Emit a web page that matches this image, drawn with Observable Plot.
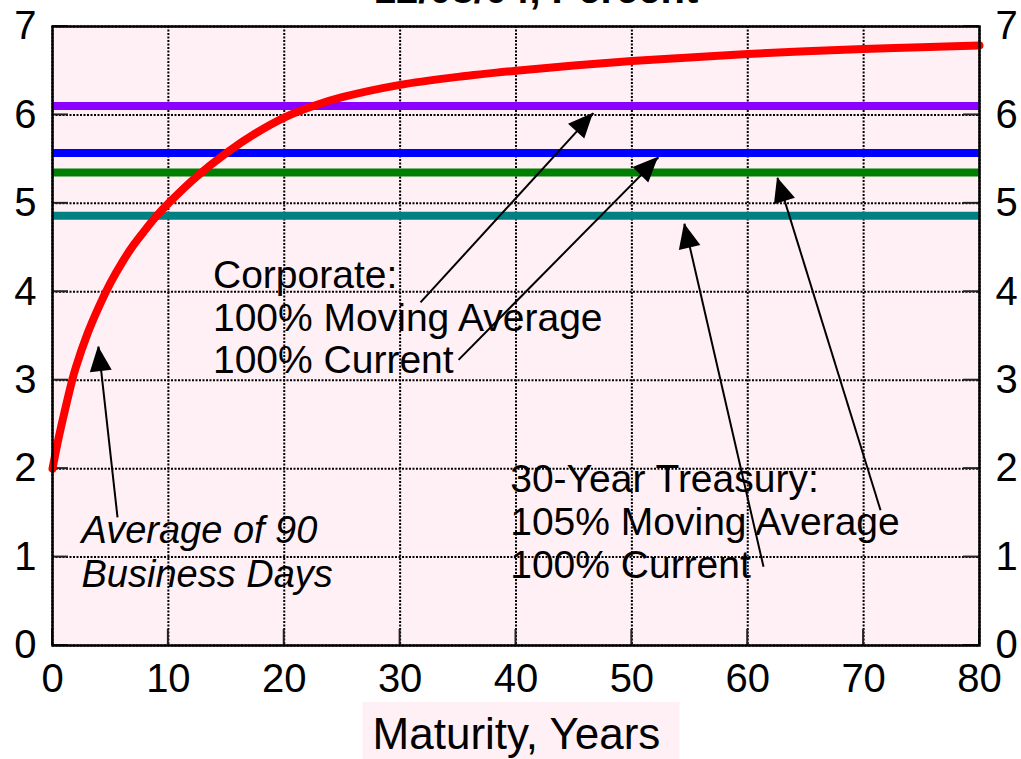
<!DOCTYPE html>
<html>
<head>
<meta charset="utf-8">
<script src="https://cdn.jsdelivr.net/npm/d3@7"></script>
<script src="https://cdn.jsdelivr.net/npm/@observablehq/plot@0.6"></script>
<style>
  html, body { margin: 0; padding: 0; background: #ffffff; }
  #chart { width: 1021px; height: 759px; overflow: hidden; }
</style>
</head>
<body>
<div id="chart"></div>
<script>
// ---- data ----
const titleText = "12/08/04, Percent";
const xLabel = "Maturity, Years";
const xTicks = [0, 10, 20, 30, 40, 50, 60, 70, 80];
const yTicks = [0, 1, 2, 3, 4, 5, 6, 7];

// Average of 90 business days curve
const maturity = [0, 0.5, 1, 1.7, 2, 3, 4, 5, 6, 7, 8, 9, 10, 12.5, 15, 17.5, 20, 22.5, 25, 30, 35, 40, 45, 50, 55, 60, 65, 70, 75, 80];
const avgRate  = [2.0, 2.33, 2.62, 3.0, 3.14, 3.52, 3.83, 4.1, 4.33, 4.53, 4.7, 4.86, 5.0, 5.31, 5.57, 5.79, 5.97, 6.1, 6.2, 6.34, 6.43, 6.5, 6.56, 6.61, 6.65, 6.69, 6.72, 6.745, 6.765, 6.785];

// Flat discount rates
const levelNames  = ["Corporate 100% Moving Average", "Corporate 100% Current", "30-Year Treasury 105% Moving Average", "30-Year Treasury 100% Current"];
const levelValues = [6.10, 5.57, 5.35, 4.86];
const levelColors = ["#8c00ff", "#0000ff", "#008000", "#008080"];

// Annotations (data coordinates)
const noteText = ["Corporate:\n100% Moving Average\n100% Current", "30-Year Treasury:\n105% Moving Average\n100% Current"];
const noteX = [13.85, 39.5];
const noteY = [3.076, 0.76];
const avgNoteText = ["Average of 90\nBusiness Days"];
const avgNoteX = [2.5];
const avgNoteY = [0.66];

// Arrows: from (x1,y1) to tip (x2,y2)
const arrowX1 = [5.61, 31.76, 35.04, 71.46, 61.36];
const arrowY1 = [1.45, 3.88, 3.23, 1.53, 0.89];
const arrowX2 = [3.97, 46.69, 52.30, 62.57, 54.54];
const arrowY2 = [3.38, 6.02, 5.52, 5.29, 4.77];

// ---- derived tables ----
const curve = maturity.map((m, i) => ({m, r: avgRate[i]}));
const levels = levelValues.map((v, i) => ({name: levelNames[i], v, c: levelColors[i]}));
const arrows = arrowX1.map((x1, i) => ({x1, y1: arrowY1[i], x2: arrowX2[i], y2: arrowY2[i]}));

const FONT = "'Liberation Sans', Arial, Helvetica, sans-serif";
const PINK = "#fff0f6";

function overlay(index, scales, values, dimensions) {
  const {x, y} = scales;
  const {width, height, marginLeft, marginRight, marginBottom} = dimensions;
  const g = d3.create("svg:g");
  const x0 = marginLeft, x1 = width - marginRight, yb = height - marginBottom;
  const T = 16;
  for (const t of yTicks) {
    const yy = y(t);
    g.append("line").attr("x1", x0).attr("x2", x0 + T).attr("y1", yy).attr("y2", yy)
      .attr("stroke", "#222").attr("stroke-width", 2);
    g.append("line").attr("x1", x1 - T).attr("x2", x1).attr("y1", yy).attr("y2", yy)
      .attr("stroke", "#222").attr("stroke-width", 2);
  }
  for (const t of xTicks) {
    const xx = x(t);
    g.append("line").attr("x1", xx).attr("x2", xx).attr("y1", yb - T).attr("y2", yb)
      .attr("stroke", "#222").attr("stroke-width", 2);
  }
  return g.node();
}

function arrowHeads(index, scales) {
  const {x, y} = scales;
  const g = d3.create("svg:g");
  for (const a of arrows) {
    const sx = x(a.x1), sy = y(a.y1), tx = x(a.x2), ty = y(a.y2);
    const ang = Math.atan2(ty - sy, tx - sx);
    const L = 25, W = 11;
    const bx = tx - L * Math.cos(ang), by = ty - L * Math.sin(ang);
    const px = -Math.sin(ang) * W, py = Math.cos(ang) * W;
    g.append("path")
      .attr("d", `M${tx},${ty}L${bx + px},${by + py}L${bx - px},${by - py}Z`)
      .attr("fill", "black");
  }
  return g.node();
}

function xLabelBox(index, scales, values, dimensions) {
  const {width, height, marginLeft, marginRight} = dimensions;
  const cx = (marginLeft + width - marginRight) / 2;
  const g = d3.create("svg:g");
  g.append("rect").attr("x", cx - 153).attr("y", height - 57).attr("width", 317).attr("height", 57)
    .attr("fill", PINK);
  g.append("text").attr("x", cx + 1).attr("y", height - 10).attr("text-anchor", "middle")
    .attr("font-size", 44).attr("fill", "black").attr("font-family", FONT).text(xLabel);
  return g.node();
}

const chart = Plot.plot({
  width: 1021,
  height: 759,
  marginLeft: 52,
  marginRight: 42,
  marginTop: 26,
  marginBottom: 114,
  style: {fontFamily: FONT, background: "white", color: "black"},
  x: {domain: [0, 80]},
  y: {domain: [0, 7]},
  color: {type: "identity"},
  marks: [
    Plot.frame({fill: PINK, stroke: null}),
    Plot.gridX(xTicks, {stroke: "black", strokeOpacity: 1, strokeWidth: 2, strokeDasharray: "2,1.5"}),
    Plot.gridY(yTicks, {stroke: "black", strokeOpacity: 1, strokeWidth: 2, strokeDasharray: "2,1.5"}),
    overlay,
    Plot.ruleY(levels, {y: "v", x1: 0, x2: 80, stroke: "c", strokeWidth: 8}),
    Plot.line(curve, {x: "m", y: "r", stroke: "#ff0000", strokeWidth: 8, curve: "catmull-rom"}),
    Plot.link(arrows, {x1: "x1", y1: "y1", x2: "x2", y2: "y2", stroke: "black", strokeWidth: 2}),
    arrowHeads,
    Plot.text(noteText, {x: (d, i) => noteX[i], y: (d, i) => noteY[i], text: d => d,
      textAnchor: "start", lineAnchor: "bottom", lineHeight: 1.1, fontSize: 39, fill: "black"}),
    Plot.text(avgNoteText, {x: (d, i) => avgNoteX[i], y: (d, i) => avgNoteY[i], text: d => d,
      textAnchor: "start", lineAnchor: "bottom", lineHeight: 1.16, fontSize: 38, fontStyle: "italic", fill: "black"}),
    Plot.frame({stroke: "black", strokeWidth: 2.5}),
    Plot.axisY(yTicks, {anchor: "left", tickSize: 0, tickPadding: 16, fontSize: 40, label: null, tickFormat: d => String(d)}),
    Plot.axisY(yTicks, {anchor: "right", tickSize: 0, tickPadding: 16, fontSize: 40, label: null, tickFormat: d => String(d)}),
    Plot.axisX(xTicks, {anchor: "bottom", tickSize: 0, tickPadding: 18, fontSize: 40, label: null, tickFormat: d => String(d)}),
    Plot.text([titleText], {frameAnchor: "top", dx: 20, dy: -24, lineAnchor: "bottom",
      fontSize: 40, fontWeight: "bold", fill: "black"}),
    xLabelBox
  ]
});
document.getElementById("chart").appendChild(chart);
</script>
</body>
</html>
